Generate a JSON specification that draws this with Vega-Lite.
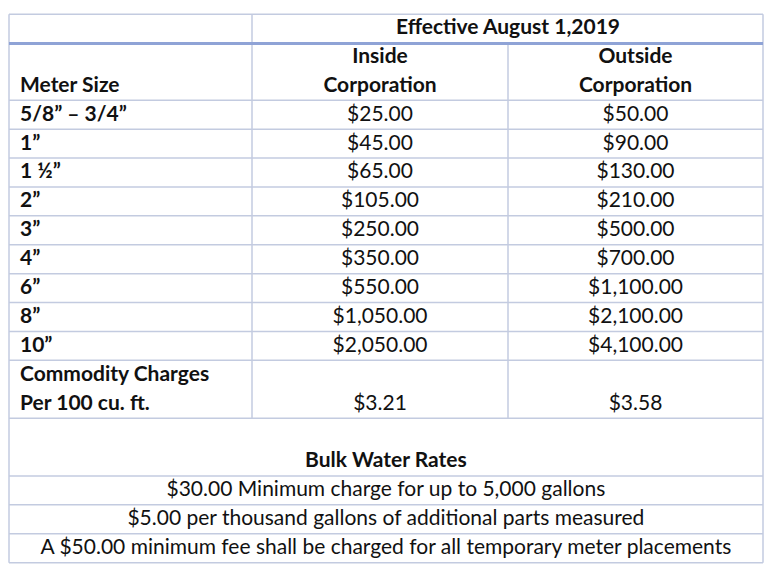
{
  "$schema": "https://vega.github.io/schema/vega-lite/v6.json",
  "width": 782,
  "height": 584,
  "autosize": "none",
  "padding": 0,
  "background": "white",
  "config": {"view": {"stroke": null}},
  "datasets": {
    "hlines": [
      {"L": -0.48, "c0": 0, "c1": 3, "kind": "thin"},
      {"L": 0.54, "c0": 0, "c1": 3, "kind": "thick"},
      {"L": 2.5, "c0": 0, "c1": 3, "kind": "thin"},
      {"L": 3.5, "c0": 0, "c1": 3, "kind": "thin"},
      {"L": 4.5, "c0": 0, "c1": 3, "kind": "thin"},
      {"L": 5.5, "c0": 0, "c1": 3, "kind": "thin"},
      {"L": 6.5, "c0": 0, "c1": 3, "kind": "thin"},
      {"L": 7.5, "c0": 0, "c1": 3, "kind": "thin"},
      {"L": 8.5, "c0": 0, "c1": 3, "kind": "thin"},
      {"L": 9.5, "c0": 0, "c1": 3, "kind": "thin"},
      {"L": 10.5, "c0": 0, "c1": 3, "kind": "thin"},
      {"L": 11.5, "c0": 0, "c1": 3, "kind": "thin"},
      {"L": 13.5, "c0": 0, "c1": 3, "kind": "thin"},
      {"L": 15.5, "c0": 0, "c1": 3, "kind": "thin"},
      {"L": 16.5, "c0": 0, "c1": 3, "kind": "thin"},
      {"L": 17.5, "c0": 0, "c1": 3, "kind": "thin"},
      {"L": 18.5, "c0": 0, "c1": 3, "kind": "thin"}
    ],
    "vlines": [
      {"c": 0, "L0": -0.48, "L1": 18.5},
      {"c": 1, "L0": -0.48, "L1": 13.5},
      {"c": 2, "L0": 0.52, "L1": 13.5},
      {"c": 3, "L0": -0.48, "L1": 18.5}
    ],
    "cells": [
      {"text": "Effective August 1,2019", "L": 0, "c0": 1, "c1": 3, "align": "center", "weight": "bold"},
      {"text": "Inside", "L": 1, "c0": 1, "c1": 2, "align": "center", "weight": "bold"},
      {"text": "Corporation", "L": 2, "c0": 1, "c1": 2, "align": "center", "weight": "bold"},
      {"text": "Outside", "L": 1, "c0": 2, "c1": 3, "align": "center", "weight": "bold"},
      {"text": "Corporation", "L": 2, "c0": 2, "c1": 3, "align": "center", "weight": "bold"},
      {"text": "Meter Size", "L": 2, "c0": 0, "c1": 1, "align": "left", "weight": "bold"},
      {"text": "5/8” – 3/4”", "L": 3, "c0": 0, "c1": 1, "align": "left", "weight": "bold"},
      {"text": "1”", "L": 4, "c0": 0, "c1": 1, "align": "left", "weight": "bold"},
      {"text": "1 ½”", "L": 5, "c0": 0, "c1": 1, "align": "left", "weight": "bold"},
      {"text": "2”", "L": 6, "c0": 0, "c1": 1, "align": "left", "weight": "bold"},
      {"text": "3”", "L": 7, "c0": 0, "c1": 1, "align": "left", "weight": "bold"},
      {"text": "4”", "L": 8, "c0": 0, "c1": 1, "align": "left", "weight": "bold"},
      {"text": "6”", "L": 9, "c0": 0, "c1": 1, "align": "left", "weight": "bold"},
      {"text": "8”", "L": 10, "c0": 0, "c1": 1, "align": "left", "weight": "bold"},
      {"text": "10”", "L": 11, "c0": 0, "c1": 1, "align": "left", "weight": "bold"},
      {"text": "$25.00", "L": 3, "c0": 1, "c1": 2, "align": "center", "weight": "normal"},
      {"text": "$45.00", "L": 4, "c0": 1, "c1": 2, "align": "center", "weight": "normal"},
      {"text": "$65.00", "L": 5, "c0": 1, "c1": 2, "align": "center", "weight": "normal"},
      {"text": "$105.00", "L": 6, "c0": 1, "c1": 2, "align": "center", "weight": "normal"},
      {"text": "$250.00", "L": 7, "c0": 1, "c1": 2, "align": "center", "weight": "normal"},
      {"text": "$350.00", "L": 8, "c0": 1, "c1": 2, "align": "center", "weight": "normal"},
      {"text": "$550.00", "L": 9, "c0": 1, "c1": 2, "align": "center", "weight": "normal"},
      {"text": "$1,050.00", "L": 10, "c0": 1, "c1": 2, "align": "center", "weight": "normal"},
      {"text": "$2,050.00", "L": 11, "c0": 1, "c1": 2, "align": "center", "weight": "normal"},
      {"text": "$50.00", "L": 3, "c0": 2, "c1": 3, "align": "center", "weight": "normal"},
      {"text": "$90.00", "L": 4, "c0": 2, "c1": 3, "align": "center", "weight": "normal"},
      {"text": "$130.00", "L": 5, "c0": 2, "c1": 3, "align": "center", "weight": "normal"},
      {"text": "$210.00", "L": 6, "c0": 2, "c1": 3, "align": "center", "weight": "normal"},
      {"text": "$500.00", "L": 7, "c0": 2, "c1": 3, "align": "center", "weight": "normal"},
      {"text": "$700.00", "L": 8, "c0": 2, "c1": 3, "align": "center", "weight": "normal"},
      {"text": "$1,100.00", "L": 9, "c0": 2, "c1": 3, "align": "center", "weight": "normal"},
      {"text": "$2,100.00", "L": 10, "c0": 2, "c1": 3, "align": "center", "weight": "normal"},
      {"text": "$4,100.00", "L": 11, "c0": 2, "c1": 3, "align": "center", "weight": "normal"},
      {"text": "Commodity Charges", "L": 12, "c0": 0, "c1": 1, "align": "left", "weight": "bold"},
      {"text": "Per 100 cu. ft.", "L": 13, "c0": 0, "c1": 1, "align": "left", "weight": "bold"},
      {"text": "$3.21", "L": 13, "c0": 1, "c1": 2, "align": "center", "weight": "normal"},
      {"text": "$3.58", "L": 13, "c0": 2, "c1": 3, "align": "center", "weight": "normal"},
      {"text": "Bulk Water Rates", "L": 15, "c0": 0, "c1": 3, "align": "center", "weight": "bold"},
      {"text": "$30.00 Minimum charge for up to 5,000 gallons", "L": 16, "c0": 0, "c1": 3, "align": "center", "weight": "normal"},
      {"text": "$5.00 per thousand gallons of additional parts measured", "L": 17, "c0": 0, "c1": 3, "align": "center", "weight": "normal"},
      {"text": "A $50.00 minimum fee shall be charged for all temporary meter placements", "L": 18, "c0": 0, "c1": 3, "align": "center", "weight": "normal"}
    ]
  },
  "layer": [
    {
      "data": {"name": "vlines"},
      "mark": {"type": "rule", "color": "#c3cbe0", "strokeWidth": 1.5},
      "encoding": {
        "x": {"field": "c", "type": "quantitative", "axis": null,
              "scale": {"type": "linear", "domain": [0, 1, 2, 3], "range": [9, 252, 508, 763], "zero": false, "nice": false}},
        "y": {"field": "L0", "type": "quantitative", "axis": null,
              "scale": {"domain": [-0.9689, 19.239], "reverse": true, "zero": false, "nice": false}},
        "y2": {"field": "L1"}
      }
    },
    {
      "data": {"name": "hlines"},
      "mark": {"type": "rule"},
      "encoding": {
        "x": {"field": "c0", "type": "quantitative"},
        "x2": {"field": "c1"},
        "y": {"field": "L", "type": "quantitative"},
        "color": {"field": "kind", "type": "nominal", "legend": null,
                  "scale": {"domain": ["thin", "thick"], "range": ["#c3cbe0", "#8fa3d6"]}},
        "strokeWidth": {"field": "kind", "type": "nominal", "legend": null,
                        "scale": {"domain": ["thin", "thick"], "range": [1.5, 3]}}
      }
    },
    {
      "data": {"name": "cells"},
      "transform": [
        {"filter": "datum.align == 'left'"}
      ],
      "mark": {"type": "text", "align": "left", "baseline": "middle", "dx": 11, "font": "Lato", "fontSize": 21, "fontWeight": "bold", "color": "#111111"},
      "encoding": {
        "x": {"field": "c0", "type": "quantitative"},
        "y": {"field": "L", "type": "quantitative"},
        "text": {"field": "text"}
      }
    },
    {
      "data": {"name": "cells"},
      "transform": [
        {"filter": "datum.align == 'center' && datum.weight == 'bold'"},
        {"calculate": "datum.c0 == 0 && datum.c1 == 3 ? 1.523 : (datum.c0 + datum.c1) / 2", "as": "mid"}
      ],
      "mark": {"type": "text", "align": "center", "baseline": "middle", "font": "Lato", "fontSize": 21, "fontWeight": "bold", "color": "#111111"},
      "encoding": {
        "x": {"field": "mid", "type": "quantitative"},
        "y": {"field": "L", "type": "quantitative"},
        "text": {"field": "text"}
      }
    },
    {
      "data": {"name": "cells"},
      "transform": [
        {"filter": "datum.align == 'center' && datum.weight == 'normal'"},
        {"calculate": "datum.c0 == 0 && datum.c1 == 3 ? 1.523 : (datum.c0 + datum.c1) / 2", "as": "mid"}
      ],
      "mark": {"type": "text", "align": "center", "baseline": "middle", "font": "Lato", "fontSize": 21, "color": "#111111"},
      "encoding": {
        "x": {"field": "mid", "type": "quantitative"},
        "y": {"field": "L", "type": "quantitative"},
        "text": {"field": "text"}
      }
    }
  ]
}
